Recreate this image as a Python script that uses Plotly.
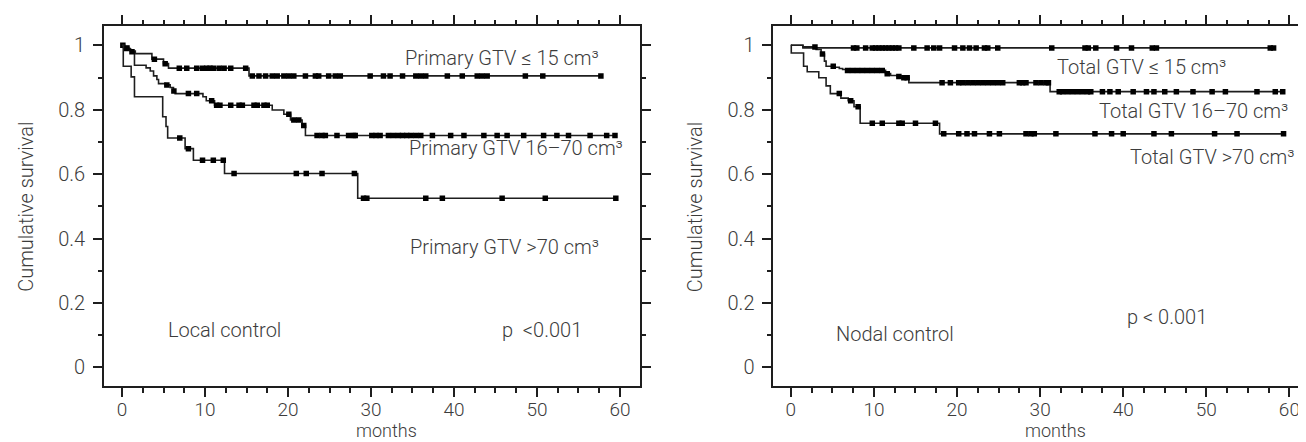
import numpy as np
import plotly.graph_objects as go

# ---------------- data (months, cumulative survival) ----------------
# Left panel: Local control by primary GTV
lc_le15_t = [0, 0.2, 1.0, 1.6, 3.6, 5.0, 5.6, 15.3]
lc_le15_s = [1, 0.99, 0.982, 0.974, 0.957, 0.943, 0.929, 0.905]
lc_le15_end = 57.7
lc_le15_cens = [0.1, 0.5, 3.9, 5.2, 6.9, 7.8, 9.0, 9.7, 10.2, 10.6, 11.0, 11.7, 12.3, 13.1,
                14.9, 15.7, 16.5, 17.3, 18.1, 18.7, 19.5, 20.1, 20.7, 22.1, 23.3, 23.7, 24.9,
                25.7, 26.3, 29.9, 31.5, 32.3, 33.8, 35.4, 36.0, 36.6, 39.2, 41.0, 42.8, 43.4,
                44.0, 48.6, 50.7, 57.7]

lc_mid_t = [0, 0.3, 0.8, 1.1, 1.5, 2.9, 3.4, 3.8, 4.2, 4.4, 5.2, 5.8, 6.2, 6.4, 9.75, 10.15,
            11.15, 18.1, 19.5, 20.3, 21.7, 22.1]
lc_mid_s = [1, 0.992, 0.987, 0.98, 0.938, 0.930, 0.920, 0.905, 0.894, 0.881, 0.877, 0.869,
            0.858, 0.850, 0.840, 0.828, 0.814, 0.799, 0.786, 0.768, 0.751, 0.72]
lc_mid_end = 59.5
lc_mid_cens = [0.6, 1.2, 5.4, 6.25, 8.0, 9.0, 10.8, 11.4, 11.8, 13.1, 14.1, 14.5, 15.9, 16.3,
               17.1, 17.5, 20.1, 20.7, 21.3, 21.9, 23.5, 24.1, 24.5, 25.9, 27.3, 27.9, 28.1,
               30.1, 30.6, 31.1, 32.1, 32.7, 33.3, 33.8, 34.3, 34.8, 35.4, 36.0, 37.4, 39.6,
               41.2, 43.6, 45.2, 46.4, 48.4, 50.8, 52.4, 53.8, 56.4, 58.4, 59.4]

lc_gt70_t = [0, 0.15, 1.1, 1.5, 4.9, 5.3, 5.5, 7.6, 8.6, 12.35, 28.4]
lc_gt70_s = [1, 0.935, 0.902, 0.840, 0.778, 0.748, 0.712, 0.679, 0.643, 0.602, 0.525]
lc_gt70_end = 59.5
lc_gt70_cens = [6.96, 8.0, 9.7, 11.0, 12.2, 13.5, 21.0, 22.2, 24.1, 28.0, 29.1, 29.5, 36.6,
                38.6, 45.8, 51.0, 59.5]

# Right panel: Nodal control by total GTV
nc_le15_t = [0, 1.45]
nc_le15_s = [1, 0.992]
nc_le15_end = 58.1
nc_le15_cens = [7.54, 7.94, 9.0, 9.8, 10.2, 10.6, 11.0, 11.4, 11.8, 12.2, 12.6, 13.0, 14.8,
                16.4, 17.2, 17.9, 19.7, 20.7, 21.5, 22.3, 23.3, 23.7, 24.9, 31.4, 35.4, 35.8,
                36.7, 39.2, 41.0, 43.5, 44.0, 57.7, 58.1]

nc_mid_t = [0, 1.45, 3.04, 3.64, 4.04, 4.24, 5.23, 5.83, 6.23, 6.62, 11.4, 12.0, 12.8, 13.2,
            14.2, 31.2]
nc_mid_s = [1, 0.995, 0.987, 0.973, 0.951, 0.935, 0.932, 0.928, 0.925, 0.922, 0.912, 0.906,
            0.903, 0.899, 0.884, 0.856]
nc_mid_end = 59.4
nc_mid_cens = [2.9, 3.8, 5.1, 6.82, 7.42, 8.02, 8.61, 9.21, 9.81, 10.4, 11.0, 11.6, 13.0,
               13.6, 14.0, 18.2, 19.2, 20.2, 20.7, 21.3, 21.9, 22.5, 23.1, 23.7, 24.3, 24.9,
               25.5, 27.5, 27.9, 28.3, 29.5, 30.1, 30.7, 31.0, 32.3, 32.7, 33.3, 33.9, 34.5,
               35.1, 35.7, 36.1, 37.5, 38.4, 39.4, 41.2, 42.8, 43.7, 45.0, 46.4, 48.4, 50.7,
               52.3, 56.1, 58.3, 59.2]

nc_gt70_t = [0, 0.05, 1.53, 1.97, 3.36, 4.24, 4.75, 6.02, 6.9, 7.6, 8.34, 17.9]
nc_gt70_s = [1, 0.976, 0.935, 0.918, 0.899, 0.874, 0.850, 0.836, 0.828, 0.809, 0.758, 0.725]
nc_gt70_end = 59.5
nc_gt70_cens = [5.83, 7.2, 8.1, 9.8, 11.0, 13.0, 13.4, 15.0, 17.4, 18.4, 20.2, 21.2, 22.1,
                23.9, 25.1, 28.3, 28.9, 29.3, 31.9, 36.6, 38.6, 40.0, 43.7, 45.8, 51.0, 53.7,
                59.3]

x_ticks = [0, 10, 20, 30, 40, 50, 60]
y_ticks = [0, 0.2, 0.4, 0.6, 0.8, 1]
y_ticktext = ["0", "0.2", "0.4", "0.6", "0.8", "1"]

# ---------------- styling ----------------
W, H = 1306, 442
LINE = "#1e1e1e"
TXT = "#3c3c3c"
FONT = "Roboto"
FS = 20

fig = go.Figure()


def step_at(ts, ss, t):
    idx = np.searchsorted(np.asarray(ts), np.asarray(t), side="right") - 1
    return np.asarray(ss)[idx]


def add_curve(ts, ss, end, cens, xa, ya):
    fig.add_trace(go.Scatter(
        x=list(ts) + [end], y=list(ss) + [ss[-1]], mode="lines",
        line=dict(color=LINE, width=1.6, shape="hv"),
        xaxis=xa, yaxis=ya, showlegend=False, hoverinfo="skip"))
    fig.add_trace(go.Scatter(
        x=cens, y=step_at(ts, ss, cens), mode="markers",
        marker=dict(symbol="square", size=5.5, color="#000000", line=dict(width=0)),
        xaxis=xa, yaxis=ya, showlegend=False, hoverinfo="skip"))


add_curve(lc_le15_t, lc_le15_s, lc_le15_end, lc_le15_cens, "x", "y")
add_curve(lc_mid_t, lc_mid_s, lc_mid_end, lc_mid_cens, "x", "y")
add_curve(lc_gt70_t, lc_gt70_s, lc_gt70_end, lc_gt70_cens, "x", "y")
add_curve(nc_le15_t, nc_le15_s, nc_le15_end, nc_le15_cens, "x2", "y2")
add_curve(nc_mid_t, nc_mid_s, nc_mid_end, nc_mid_cens, "x2", "y2")
add_curve(nc_gt70_t, nc_gt70_s, nc_gt70_end, nc_gt70_cens, "x2", "y2")

tickfont = dict(family=FONT, size=FS, color=TXT, weight=300)
xtickfont = dict(family=FONT, size=19, color=TXT, weight=300)

common_x = dict(
    tickmode="array", tickvals=x_ticks, ticks="outside", ticklen=9, tickwidth=1.6,
    tickcolor=LINE, showline=True, linewidth=2, linecolor=LINE, mirror="ticks",
    showgrid=False, zeroline=False, tickfont=xtickfont, ticklabelstandoff=-4,
    minor=dict(tickmode="linear", tick0=0, dtick=2.5, ticks="outside", ticklen=4.5,
               tickwidth=1.6, tickcolor=LINE, showgrid=False),
)
common_y = dict(
    tickmode="array", tickvals=y_ticks, ticktext=y_ticktext, ticks="outside", ticklen=9,
    tickwidth=1.6, tickcolor=LINE, showline=True, linewidth=2, linecolor=LINE,
    mirror="ticks", showgrid=False, zeroline=False, tickfont=tickfont, ticklabelstandoff=4,
    range=[-0.058, 1.059],
    minor=dict(tickmode="linear", tick0=0, dtick=0.1, ticks="outside", ticklen=4.5,
               tickwidth=1.6, tickcolor=LINE, showgrid=False),
)

ydom = [(H - 378) / H, (H - 18.3) / H]
fig.update_layout(
    width=W, height=H, margin=dict(l=0, r=0, t=0, b=0),
    paper_bgcolor="white", plot_bgcolor="white",
    xaxis=dict(domain=[97 / W, 637 / W], range=[-2.15, 62.37], anchor="y", **common_x),
    yaxis=dict(domain=ydom, anchor="x", **common_y),
    xaxis2=dict(domain=[772 / W, 1.0], range=[-2.09, 61.64], anchor="y2", **common_x),
    yaxis2=dict(domain=ydom, anchor="x2", **common_y),
)

afont = dict(family=FONT, size=FS, color=TXT, weight=300)
mfont = dict(family=FONT, size=18, color=TXT, weight=300)


def ann(text, x, y, xref, yref, xanchor="left", yanchor="middle", angle=0, font=afont,
        pad=1):
    fig.add_annotation(text=text, x=x, y=y, xref=xref, yref=yref, xanchor=xanchor,
                       yanchor=yanchor, showarrow=False, font=font, textangle=angle,
                       borderpad=pad)


# axis titles
ann("months", 381.7 / W, (H - 434) / H, "paper", "paper", "center", "bottom", font=mfont,
    pad=0)
ann("months", 1056 / W, (H - 434) / H, "paper", "paper", "center", "bottom", font=mfont,
    pad=0)
ann("Cumulative survival", 18 / W, (H - 199) / H, "paper", "paper", "center", angle=-90)
ann("Cumulative survival", 693 / W, (H - 199) / H, "paper", "paper", "center", angle=-90)

# left panel labels
ann("Primary GTV ≤ 15 cm³", 57.7, 0.960, "x", "y", "right")
ann("Primary GTV 16–70 cm³", 60.6, 0.680, "x", "y", "right")
ann("Primary GTV >70 cm³", 57.7, 0.375, "x", "y", "right")
ann("Local control", 5.26, 0.115, "x", "y", "left")
ann("p\u00a0 <0.001", 45.5, 0.115, "x", "y", "left")

# right panel labels
ann("Total GTV ≤ 15 cm³", 52.6, 0.933, "x2", "y2", "right")
ann("Total GTV 16–70 cm³", 60.1, 0.797, "x2", "y2", "right")
ann("Total GTV >70 cm³", 60.8, 0.652, "x2", "y2", "right")
ann("Nodal control", 5.2, 0.103, "x2", "y2", "left")
ann("p < 0.001", 40.2, 0.156, "x2", "y2", "left")

fig.write_html("out.html")
